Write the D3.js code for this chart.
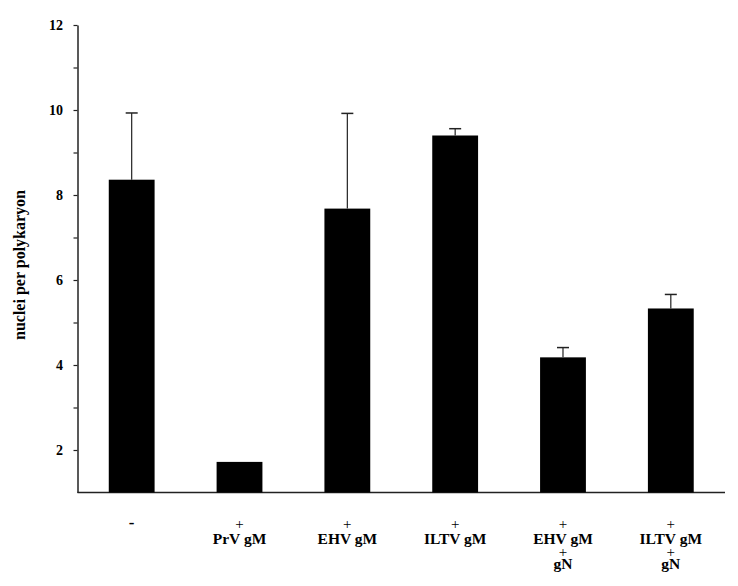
<!DOCTYPE html>
<html>
<head>
<meta charset="utf-8">
<script src="https://cdn.jsdelivr.net/npm/d3@7"></script>
<style>
  body { margin: 0; background: #fff; }
  text { font-family: "Liberation Serif", "Times New Roman", serif; }
</style>
</head>
<body>
<div id="chart-area"></div>
<script>
// data
const names = ["-", "PrV gM", "EHV gM", "ILTV gM", "EHV gM", "ILTV gM"]
const plusTop = [false, true, true, true, true, true]
const secondLine = ["", "", "", "", "gN", "gN"]
const means = [8.36, 1.72, 7.68, 9.40, 4.18, 5.33]
const upper = [9.93, 1.72, 9.92, 9.56, 4.41, 5.66]
const majorTicks = [2, 4, 6, 8, 10, 12]
const minorTicks = [3, 5, 7, 9, 11]

const WIDTH = 738
const HEIGHT = 586

const svg = d3.select("#chart-area")
    .append("svg")
    .attr("width", WIDTH)
    .attr("height", HEIGHT)

const ids = names.map((d, i) => i)

const x = d3.scaleBand()
    .domain(ids)
    .range([77.5, 725])
    .paddingInner(0.575)
    .paddingOuter(0.29)

const y = d3.scaleLinear()
    .domain([1, 12])
    .range([492.5, 25])

// minor ticks
svg.append("g")
    .attr("transform", "translate(77.5, 0)")
    .call(d3.axisLeft(y).tickValues(minorTicks).tickSize(4).tickFormat(""))
    .call(g => g.select(".domain").remove())
    .selectAll("line").attr("stroke", "#222").attr("stroke-width", 1.2)

// y axis
const yAxis = svg.append("g")
    .attr("transform", "translate(77.5, 0)")
    .call(d3.axisLeft(y).tickValues(majorTicks).tickSize(4).tickPadding(10.5).tickSizeOuter(0))
yAxis.select(".domain").attr("stroke", "#222").attr("stroke-width", 1.5)
yAxis.selectAll("line").attr("stroke", "#222").attr("stroke-width", 1.2)
yAxis.selectAll("text")
    .attr("font-size", "14px")
    .attr("font-weight", "bold")
    .attr("fill", "#000")
    .style("font-family", "'Liberation Serif', serif")

// x axis line
svg.append("line")
    .attr("x1", 77.5).attr("x2", 725)
    .attr("y1", y(1)).attr("y2", y(1))
    .attr("stroke", "#222").attr("stroke-width", 1.5)

// bars
svg.selectAll("rect.bar")
    .data(ids)
    .enter().append("rect")
    .attr("class", "bar")
    .attr("x", i => x(i))
    .attr("y", i => y(means[i]))
    .attr("width", x.bandwidth())
    .attr("height", i => y(1) - y(means[i]))
    .attr("fill", "#000")

// error bars (upper only)
const err = svg.selectAll("g.err")
    .data(ids.filter(i => upper[i] > means[i]))
    .enter().append("g")
    .attr("class", "err")
err.append("line")
    .attr("x1", i => x(i) + x.bandwidth() / 2)
    .attr("x2", i => x(i) + x.bandwidth() / 2)
    .attr("y1", i => y(means[i]))
    .attr("y2", i => y(upper[i]))
    .attr("stroke", "#222").attr("stroke-width", 1.2)
err.append("line")
    .attr("x1", i => x(i) + x.bandwidth() / 2 - 6)
    .attr("x2", i => x(i) + x.bandwidth() / 2 + 6)
    .attr("y1", i => y(upper[i]))
    .attr("y2", i => y(upper[i]))
    .attr("stroke", "#222").attr("stroke-width", 1.5)

// category labels
const lab = svg.selectAll("g.lab")
    .data(ids)
    .enter().append("g")
    .attr("class", "lab")
    .attr("transform", i => `translate(${x(i) + x.bandwidth() / 2}, 0)`)

lab.filter(i => plusTop[i]).append("text")
    .attr("y", 529)
    .attr("text-anchor", "middle")
    .attr("font-size", "15px")
    .text("+")

lab.append("text")
    .attr("y", i => plusTop[i] ? 544 : 528)
    .attr("text-anchor", "middle")
    .attr("font-size", i => plusTop[i] ? "15.5px" : "17px")
    .attr("font-weight", "bold")
    .text(i => names[i])

lab.filter(i => secondLine[i] !== "").append("text")
    .attr("y", 557)
    .attr("text-anchor", "middle")
    .attr("font-size", "15px")
    .text("+")

lab.filter(i => secondLine[i] !== "").append("text")
    .attr("y", 569)
    .attr("text-anchor", "middle")
    .attr("font-size", "15.5px")
    .attr("font-weight", "bold")
    .text(i => secondLine[i])

// Y label
svg.append("text")
    .attr("x", -265)
    .attr("y", 25)
    .attr("transform", "rotate(-90)")
    .attr("text-anchor", "middle")
    .attr("font-size", "16px")
    .attr("font-weight", "bold")
    .text("nuclei per polykaryon")
</script>
</body>
</html>
